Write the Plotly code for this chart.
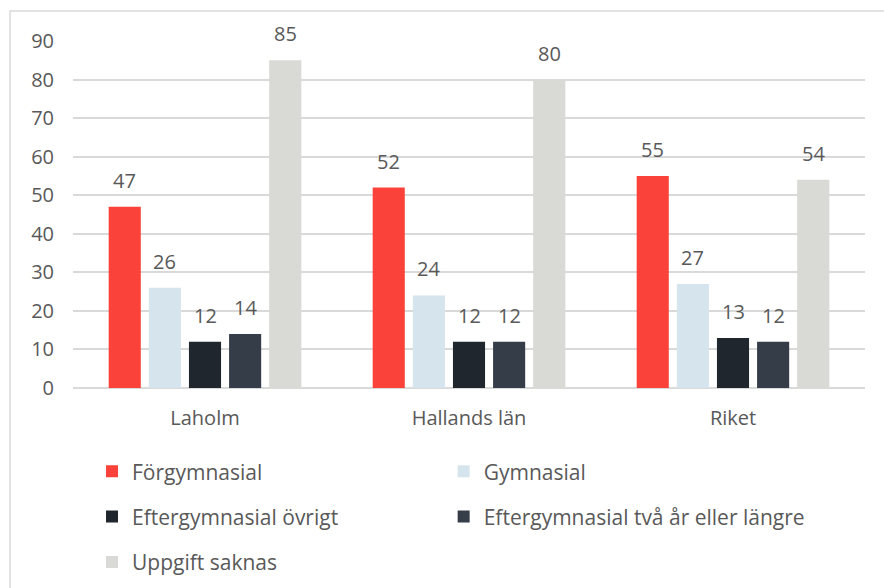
import plotly.graph_objects as go

# Utbildningsnivå per område (värden i procent/index enligt källtabell)
regions = ["Laholm", "Hallands län", "Riket"]
series_names = [
    "Förgymnasial",
    "Gymnasial",
    "Eftergymnasial övrigt",
    "Eftergymnasial två år eller längre",
    "Uppgift saknas",
]
forgymnasial = [47, 52, 55]
gymnasial = [26, 24, 27]
efter_ovrigt = [12, 12, 13]
efter_tva_ar = [14, 12, 12]
uppgift_saknas = [85, 80, 54]
y_ticks = [0, 10, 20, 30, 40, 50, 60, 70, 80, 90]

series_values = [forgymnasial, gymnasial, efter_ovrigt, efter_tva_ar, uppgift_saknas]
colors = ["#FB423A", "#D6E4EE", "#1F262E", "#343D48", "#D9D9D5"]
# two legend columns: left column holds series 0, 2, 4; right column 1, 3
legend_of = ["legend", "legend2", "legend", "legend2", "legend"]

TEXT = "#595959"
GRID = "#D9D9D9"
FONT = "Open Sans"

BARGAP = 0.24
n_series = len(series_names)

fig = go.Figure()
for i, (name, vals) in enumerate(zip(series_names, series_values)):
    fig.add_trace(go.Bar(
        name=name,
        x=regions,
        y=vals,
        marker=dict(color=colors[i], line=dict(width=0)),
        legend=legend_of[i],
        legendgroup=name,
        hoverinfo="x+y+name",
    ))

# value labels above each bar, placed at the bar's own slot within the group
slot = (1 - BARGAP) / n_series
for i, vals in enumerate(series_values):
    for j, v in enumerate(vals):
        fig.add_annotation(
            x=j + (i - (n_series - 1) / 2) * slot,
            y=v,
            xref="x",
            yref="y",
            text=str(v),
            showarrow=False,
            yanchor="bottom",
            yshift=11,
            font=dict(family=FONT, size=20, color=TEXT),
        )

# outer chart frame
fig.add_shape(
    type="rect", xref="paper", yref="paper",
    x0=-0.0795, x1=1.2, y0=-1.0, y1=1.0865,
    line=dict(color=GRID, width=1.5), fillcolor="rgba(0,0,0,0)", layer="below",
)

legend_common = dict(
    orientation="v",
    yanchor="top",
    xanchor="left",
    y=-0.182,
    font=dict(family=FONT, size=21, color=TEXT),
    bgcolor="rgba(0,0,0,0)",
    tracegroupgap=15,
    itemclick=False,
    itemdoubleclick=False,
)

fig.update_layout(
    width=884,
    height=588,
    margin=dict(l=73, r=19, t=41, b=200, autoexpand=False),
    paper_bgcolor="white",
    plot_bgcolor="white",
    font=dict(family=FONT, size=20, color=TEXT),
    barmode="group",
    bargap=BARGAP,
    bargroupgap=0.2,
    showlegend=True,
    legend=dict(x=0.024, **legend_common),
    legend2=dict(x=0.468, **legend_common),
    xaxis=dict(
        type="category",
        showgrid=False,
        showline=False,
        ticks="",
        ticklabelstandoff=16,
        tickfont=dict(family=FONT, size=20, color=TEXT),
    ),
    yaxis=dict(
        range=[0, 90],
        tickvals=y_ticks,
        ticktext=[str(t) for t in y_ticks],
        showgrid=True,
        gridcolor=GRID,
        gridwidth=1.5,
        zeroline=True,
        zerolinecolor=GRID,
        zerolinewidth=1.5,
        showline=False,
        ticks="",
        ticklabelstandoff=18,
        tickfont=dict(family=FONT, size=20, color=TEXT),
    ),
)

fig.write_html("out.html")
